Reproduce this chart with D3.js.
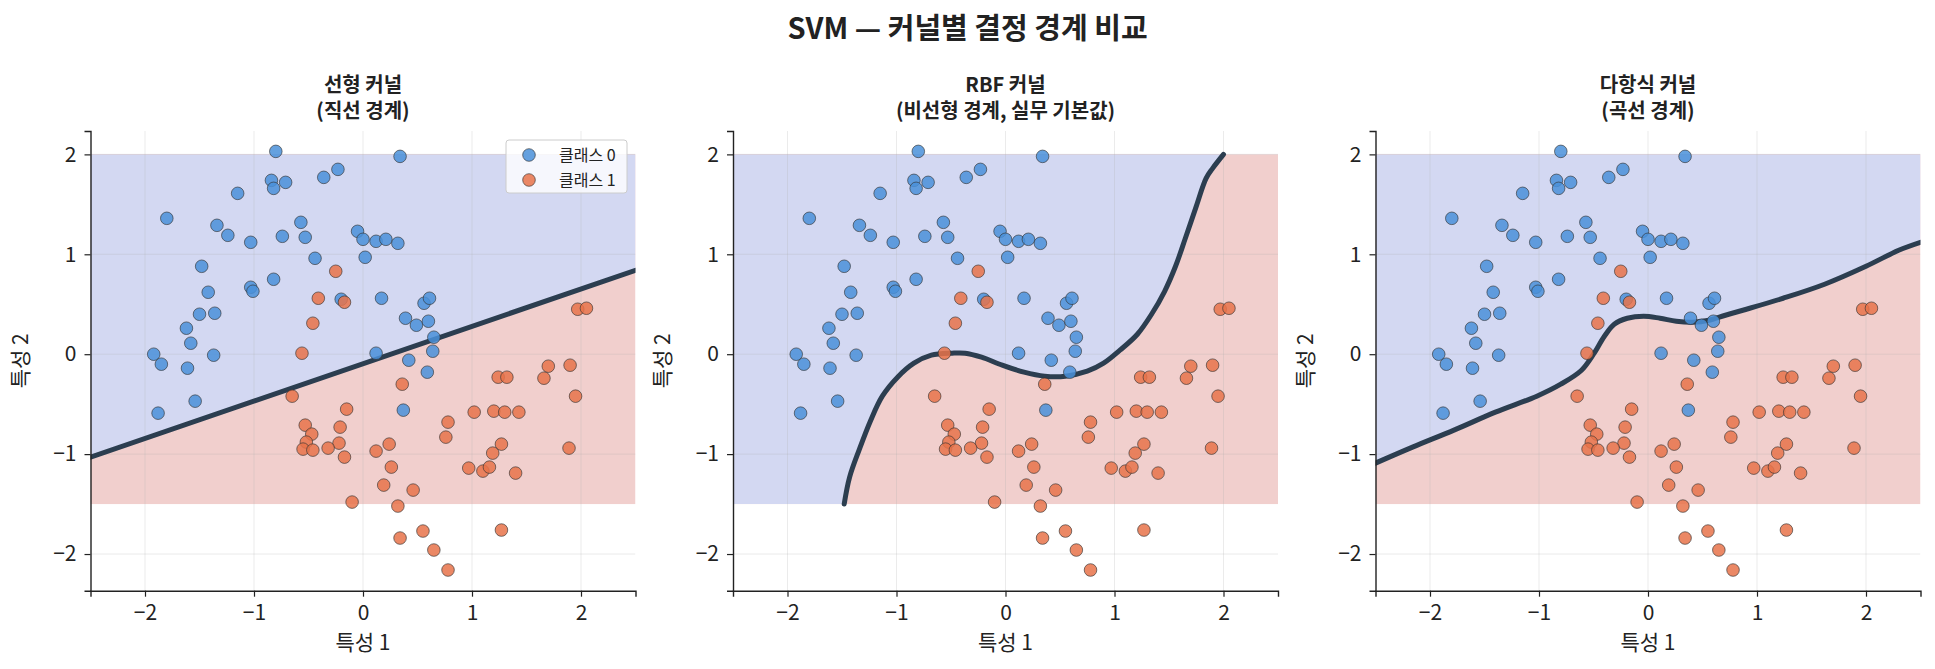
<!DOCTYPE html>
<html>
<head>
<meta charset="utf-8">
<script src="https://cdn.jsdelivr.net/npm/d3@7"></script>
<style>
  body { margin: 0; background: #fff; }
  text { font-family: "Noto Sans CJK KR", "Noto Sans", sans-serif; fill: #222; }
</style>
</head>
<body>
<div id="chart"></div>
<script>
// points (same sample in all three panels)
const class0Points = [
  [-0.80,2.03],[0.34,1.98],[-0.23,1.85],[-0.36,1.77],[-0.84,1.74],[-0.71,1.72],[-0.82,1.66],[-1.15,1.61],
  [-1.80,1.36],[-1.34,1.29],[-0.57,1.32],[-1.24,1.19],[-0.74,1.18],[-0.53,1.17],[-1.03,1.12],[-0.05,1.23],
  [0.00,1.15],[0.12,1.13],[0.21,1.15],[0.32,1.11],[-0.44,0.96],[0.02,0.97],[-1.48,0.88],[-0.82,0.75],
  [-1.03,0.67],[-1.01,0.63],[-1.42,0.62],[-0.20,0.55],[0.17,0.56],[0.56,0.51],[0.61,0.56],[-1.50,0.40],
  [-1.36,0.41],[0.39,0.36],[0.49,0.29],[0.60,0.33],[-1.62,0.26],[0.65,0.17],[-1.58,0.11],[-1.92,0.00],
  [-1.37,-0.01],[0.12,0.01],[0.64,0.03],[-1.85,-0.10],[0.42,-0.06],[-1.61,-0.14],[0.59,-0.18],[-1.54,-0.47],
  [-1.88,-0.59],[0.37,-0.56]
];
const class1Points = [
  [-0.25,0.83],[-0.41,0.56],[-0.17,0.52],[-0.46,0.31],[-0.56,0.01],[1.97,0.45],[2.05,0.46],[1.70,-0.12],
  [1.90,-0.11],[1.24,-0.23],[1.32,-0.23],[1.66,-0.24],[0.36,-0.30],[-0.65,-0.42],[1.95,-0.42],[-0.15,-0.55],
  [1.02,-0.58],[1.20,-0.57],[1.30,-0.58],[1.43,-0.58],[0.78,-0.68],[-0.53,-0.71],[-0.21,-0.73],[-0.47,-0.80],
  [0.76,-0.83],[-0.52,-0.88],[-0.22,-0.89],[0.24,-0.90],[1.27,-0.90],[-0.55,-0.95],[-0.46,-0.96],[-0.32,-0.94],
  [0.12,-0.97],[1.89,-0.94],[1.19,-0.99],[-0.17,-1.03],[0.26,-1.13],[0.97,-1.14],[1.10,-1.17],[1.16,-1.13],
  [1.40,-1.19],[0.19,-1.31],[0.46,-1.36],[-0.10,-1.48],[0.32,-1.52],[0.55,-1.77],[1.27,-1.76],[0.34,-1.84],
  [0.65,-1.96],[0.78,-2.16]
];

// decision boundaries
const linearBoundary = [[-2.50,-1.03],[2.50,0.84]];
const rbfBoundary = [
  [-1.48,-1.50],[-1.43,-1.23],[-1.34,-0.95],[-1.24,-0.67],[-1.13,-0.42],[-0.99,-0.23],[-0.84,-0.09],
  [-0.68,-0.01],[-0.49,0.01],[-0.37,0.01],[-0.22,-0.03],[-0.03,-0.11],[0.17,-0.18],[0.36,-0.22],
  [0.55,-0.22],[0.75,-0.17],[0.90,-0.09],[1.05,0.04],[1.21,0.20],[1.34,0.40],[1.46,0.63],[1.56,0.88],
  [1.65,1.16],[1.75,1.48],[1.84,1.76],[1.90,1.86],[2.00,2.00]
];
const polyBoundary = [
  [-2.50,-1.09],[-2.16,-0.93],[-1.78,-0.76],[-1.40,-0.58],[-1.02,-0.42],[-0.80,-0.30],[-0.61,-0.16],
  [-0.50,0.00],[-0.40,0.18],[-0.31,0.30],[-0.19,0.36],[-0.04,0.38],[0.11,0.36],[0.26,0.33],[0.41,0.32],
  [0.56,0.34],[0.71,0.39],[0.87,0.44],[1.24,0.56],[1.62,0.70],[2.00,0.88],[2.30,1.04],[2.50,1.12]
];
// corners of the grid that close the class-0 side of each boundary
const linearBlueCorners = [[2.5,2.0],[-2.5,2.0]];
const rbfBlueCorners = [[-2.5,2.0],[-2.5,-1.5]];
const polyBlueCorners = [[2.5,2.0],[-2.5,2.0]];

const gridExtentX = [-2.5, 2.5];
const gridExtentY = [-1.5, 2.0];

const panelTitles = [
  ["선형 커널", "(직선 경계)"],
  ["RBF 커널", "(비선형 경계, 실무 기본값)"],
  ["다항식 커널", "(곡선 경계)"]
];
const tickValues = [-2, -1, 0, 1, 2];
const legendLabels = ["클래스 0", "클래스 1"];

((() => {
  const W = 1935, H = 669;
  const colors = ["#4a90d9", "#e8734a"];
  const regionColors = ["#d3d8f2", "#f1cfcd"];

  const svg = d3.select("#chart").append("svg")
    .attr("width", W).attr("height", H);

  svg.append("text")
    .attr("x", W / 2).attr("y", 29)
    .attr("dy", "0.35em")
    .attr("text-anchor", "middle")
    .style("font-size", "29px")
    .style("font-weight", "bold")
    .text("SVM — 커널별 결정 경계 비교");

  const panels = [
    { left: 90.5, boundary: linearBoundary, corners: linearBlueCorners },
    { left: 733, boundary: rbfBoundary, corners: rbfBlueCorners },
    { left: 1375.5, boundary: polyBoundary, corners: polyBlueCorners }
  ];
  const pw = 545, top = 131, bottom = 590.7;

  const fmt = d => (d < 0 ? "\u2212" + Math.abs(d) : String(d));

  panels.forEach((p, i) => {
    const x = d3.scaleLinear().domain([-2.5, 2.5]).range([p.left, p.left + pw]);
    const y = d3.scaleLinear().domain([-2.367, 2.234]).range([bottom, top]);
    const g = svg.append("g");

    g.append("clipPath").attr("id", "clip" + i)
      .append("rect")
      .attr("x", p.left).attr("y", top)
      .attr("width", pw).attr("height", bottom - top);

    const plot = g.append("g").attr("clip-path", `url(#clip${i})`);

    // class 1 region first, class 0 polygon over it
    plot.append("rect")
      .attr("x", x(gridExtentX[0])).attr("y", y(gridExtentY[1]))
      .attr("width", x(gridExtentX[1]) - x(gridExtentX[0]))
      .attr("height", y(gridExtentY[0]) - y(gridExtentY[1]))
      .attr("fill", regionColors[1]);

    const poly = p.boundary.concat(p.corners);
    plot.append("path")
      .attr("d", d3.line().x(d => x(d[0])).y(d => y(d[1]))(poly) + "Z")
      .attr("fill", regionColors[0]);

    // grid
    tickValues.forEach(t => {
      plot.append("line")
        .attr("x1", x(t)).attr("x2", x(t)).attr("y1", top).attr("y2", bottom)
        .attr("stroke", "#b0b0b0").attr("stroke-opacity", 0.25).attr("stroke-width", 1);
      plot.append("line")
        .attr("x1", p.left).attr("x2", p.left + pw).attr("y1", y(t)).attr("y2", y(t))
        .attr("stroke", "#b0b0b0").attr("stroke-opacity", 0.25).attr("stroke-width", 1);
    });

    plot.append("path")
      .datum(p.boundary)
      .attr("d", d3.line().x(d => x(d[0])).y(d => y(d[1])).curve(d3.curveCatmullRom))
      .attr("fill", "none")
      .attr("stroke", "#2c3e50")
      .attr("stroke-width", 5)
      .attr("stroke-linecap", "round");

    [class0Points, class1Points].forEach((pts, k) => {
      plot.selectAll(null).data(pts).enter().append("circle")
        .attr("cx", d => x(d[0])).attr("cy", d => y(d[1]))
        .attr("r", 6.3)
        .attr("fill", colors[k]).attr("fill-opacity", 0.85)
        .attr("stroke", "#333").attr("stroke-opacity", 0.8).attr("stroke-width", 0.8);
    });

    // axes
    const xAxis = g.append("g").attr("transform", `translate(0,${bottom})`)
      .call(d3.axisBottom(x).tickValues(tickValues).tickFormat(fmt).tickSizeOuter(0).tickSize(6).tickPadding(8));
    const yAxis = g.append("g").attr("transform", `translate(${p.left},0)`)
      .call(d3.axisLeft(y).tickValues(tickValues).tickFormat(fmt).tickSizeOuter(0).tickSize(6).tickPadding(8));
    [xAxis, yAxis].forEach(a => {
      a.select(".domain").attr("stroke", "#222").attr("stroke-width", 1.4);
      a.selectAll(".tick line").attr("stroke", "#222").attr("stroke-width", 1.2);
      a.selectAll(".tick text").style("font-size", "21px").attr("fill", "#222");
    });

    g.append("text")
      .attr("x", p.left + pw / 2).attr("y", 643)
      .attr("dy", "0.35em").attr("text-anchor", "middle")
      .style("font-size", "21px")
      .text("특성 1");
    g.append("text")
      .attr("transform", `translate(${p.left - 70},${(top + bottom) / 2}) rotate(-90)`)
      .attr("dy", "0.35em").attr("text-anchor", "middle")
      .style("font-size", "21px")
      .text("특성 2");

    // two-line panel title
    const title = g.append("text")
      .attr("text-anchor", "middle")
      .style("font-size", "20px").style("font-weight", "bold");
    panelTitles[i].forEach((t, j) => {
      title.append("tspan")
        .attr("x", p.left + pw / 2).attr("y", 84.5 + j * 26)
        .attr("dy", "0.35em")
        .text(t);
    });

    if (i === 0) {
      const lg = g.append("g");
      lg.append("rect")
        .attr("x", 506).attr("y", 140).attr("width", 121).attr("height", 53)
        .attr("rx", 3).attr("fill", "#fff").attr("fill-opacity", 0.8)
        .attr("stroke", "#cccccc").attr("stroke-width", 1);
      legendLabels.forEach((lab, k) => {
        lg.append("circle")
          .attr("cx", 529).attr("cy", 155 + k * 25).attr("r", 6.3)
          .attr("fill", colors[k]).attr("fill-opacity", 0.85)
          .attr("stroke", "#333").attr("stroke-opacity", 0.8).attr("stroke-width", 0.8);
        lg.append("text")
          .attr("x", 559).attr("y", 155 + k * 25).attr("dy", "0.35em")
          .style("font-size", "16px")
          .text(lab);
      });
    }
  });
})());
</script>
</body>
</html>
